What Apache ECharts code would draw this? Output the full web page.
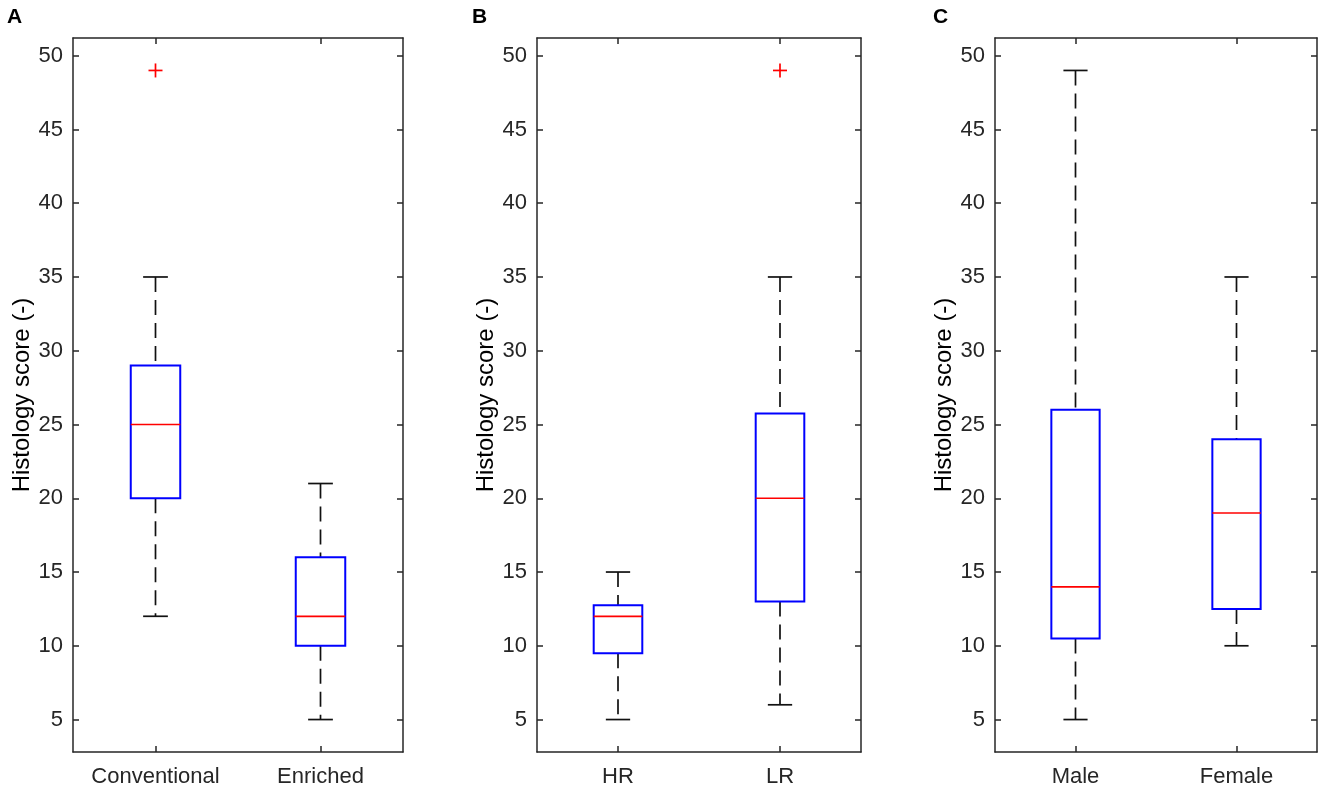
<!DOCTYPE html>
<html lang="en">
<head>
    <meta charset="utf-8">
    <title>Histology score boxplots</title>
    <style>
        html, body { margin: 0; padding: 0; background: #fff; }
        #main { width: 1325px; height: 791px; }
    </style>
</head>
<body>
<div id="main"></div>
<script src="https://cdn.jsdelivr.net/npm/echarts@6/dist/echarts.min.js"></script>
<script>
// box stats per group: [whisker low, Q1, median, Q3, whisker high]
var dietCats = ['Conventional', 'Enriched'];
var dietStats = [[12, 20, 25, 29, 35], [5, 10, 12, 16, 21]];
var dietOutliers = [[0, 49]];

var riskCats = ['HR', 'LR'];
var riskStats = [[5, 9.5, 12, 12.75, 15], [6, 13, 20, 25.75, 35]];
var riskOutliers = [[1, 49]];

var sexCats = ['Male', 'Female'];
var sexStats = [[5, 10.5, 14, 26, 49], [10, 12.5, 19, 24, 35]];
var sexOutliers = [];

var yTicks = [5, 10, 15, 20, 25, 30, 35, 40, 45, 50];
var yMin = 2.8, yMax = 51.2;
var panelLetters = ['A', 'B', 'C'];
var yTitle = 'Histology score (-)';

var FONT = "'Liberation Sans', Arial, Helvetica, sans-serif";
var AXIS = '#262626';

var panels = [
    {cats: dietCats, stats: dietStats, out: dietOutliers, left: 73, width: 330, letterX: 7},
    {cats: riskCats, stats: riskStats, out: riskOutliers, left: 537, width: 324, letterX: 472},
    {cats: sexCats, stats: sexStats, out: sexOutliers, left: 995, width: 322, letterX: 933}
];

function renderBox(params, api) {
    var x = api.value(0);
    var band = api.size([1, 0])[0];
    var bw = band * 0.3 / 2, cw = band * 0.15 / 2;
    var low = api.coord([x, api.value(1)]);
    var q1 = api.coord([x, api.value(2)]);
    var med = api.coord([x, api.value(3)]);
    var q3 = api.coord([x, api.value(4)]);
    var high = api.coord([x, api.value(5)]);
    var cx = low[0];
    var dash = {stroke: '#111', lineWidth: 1.7, lineDash: [15, 8], fill: null};
    var solid = {stroke: '#111', lineWidth: 1.7, fill: null};
    return {
        type: 'group',
        children: [
            {type: 'line', shape: {x1: cx, y1: high[1], x2: cx, y2: q3[1]}, style: dash},
            {type: 'line', shape: {x1: cx, y1: q1[1], x2: cx, y2: low[1]}, style: dash},
            {type: 'line', shape: {x1: cx - cw, y1: high[1], x2: cx + cw, y2: high[1]}, style: solid},
            {type: 'line', shape: {x1: cx - cw, y1: low[1], x2: cx + cw, y2: low[1]}, style: solid},
            {type: 'rect', shape: {x: cx - bw, y: q3[1], width: bw * 2, height: q1[1] - q3[1]},
                style: {stroke: '#0000ff', lineWidth: 2, fill: null}},
            {type: 'line', shape: {x1: cx - bw, y1: med[1], x2: cx + bw, y2: med[1]},
                style: {stroke: '#ff0000', lineWidth: 1.7}}
        ]
    };
}

function renderOutlier(params, api) {
    var p = api.coord([api.value(0), api.value(1)]);
    var s = 7;
    var st = {stroke: '#ff0000', lineWidth: 1.7};
    return {
        type: 'group',
        children: [
            {type: 'line', shape: {x1: p[0] - s, y1: p[1], x2: p[0] + s, y2: p[1]}, style: st},
            {type: 'line', shape: {x1: p[0], y1: p[1] - s, x2: p[0], y2: p[1] + s}, style: st}
        ]
    };
}

var grids = [], xAxes = [], yAxes = [], series = [], titles = [];
panels.forEach(function (p, i) {
    grids.push({left: p.left, width: p.width, top: 38, height: 714});
    titles.push({
        text: panelLetters[i], left: p.letterX, top: 7, padding: 0,
        textStyle: {fontFamily: FONT, fontSize: 21, fontWeight: 'bold', color: '#000'}
    });
    var tick = {show: true, inside: true, length: 6, alignWithLabel: true, lineStyle: {color: AXIS, width: 1.5}};
    var line = {show: true, onZero: false, lineStyle: {color: AXIS, width: 1.5}};
    xAxes.push({
        gridIndex: i, type: 'category', data: p.cats, position: 'bottom',
        axisLine: line, axisTick: tick,
        axisLabel: {fontFamily: FONT, fontSize: 22, color: AXIS, margin: 14, interval: 0, hideOverlap: false},
        splitLine: {show: false}
    });
    xAxes.push({
        gridIndex: i, type: 'category', data: p.cats, position: 'top',
        axisLine: line, axisTick: tick, axisLabel: {show: false}, splitLine: {show: false}
    });
    var ytick = {show: true, inside: true, length: 6, customValues: yTicks, lineStyle: {color: AXIS, width: 1.5}};
    yAxes.push({
        gridIndex: i, type: 'value', min: yMin, max: yMax, position: 'left',
        axisLine: line, axisTick: ytick,
        axisLabel: {fontFamily: FONT, fontSize: 22, color: AXIS, margin: 10, customValues: yTicks},
        splitLine: {show: false},
        name: yTitle, nameLocation: 'middle', nameGap: 39,
        nameTextStyle: {fontFamily: FONT, fontSize: 24, color: '#000'}
    });
    yAxes.push({
        gridIndex: i, type: 'value', min: yMin, max: yMax, position: 'right',
        axisLine: line, axisTick: ytick, axisLabel: {show: false}, splitLine: {show: false}
    });
    series.push({
        type: 'custom', xAxisIndex: i * 2, yAxisIndex: i * 2,
        renderItem: renderBox,
        encode: {x: 0, y: [1, 2, 3, 4, 5]},
        data: p.stats.map(function (s, k) { return [k].concat(s); })
    });
    if (p.out.length) {
        series.push({
            type: 'custom', xAxisIndex: i * 2, yAxisIndex: i * 2,
            renderItem: renderOutlier,
            encode: {x: 0, y: 1},
            data: p.out
        });
    }
});

var chart = echarts.init(document.getElementById('main'));
chart.setOption({
    backgroundColor: '#fff',
    animation: false,
    title: titles,
    grid: grids,
    xAxis: xAxes,
    yAxis: yAxes,
    series: series
});
</script>
</body>
</html>
